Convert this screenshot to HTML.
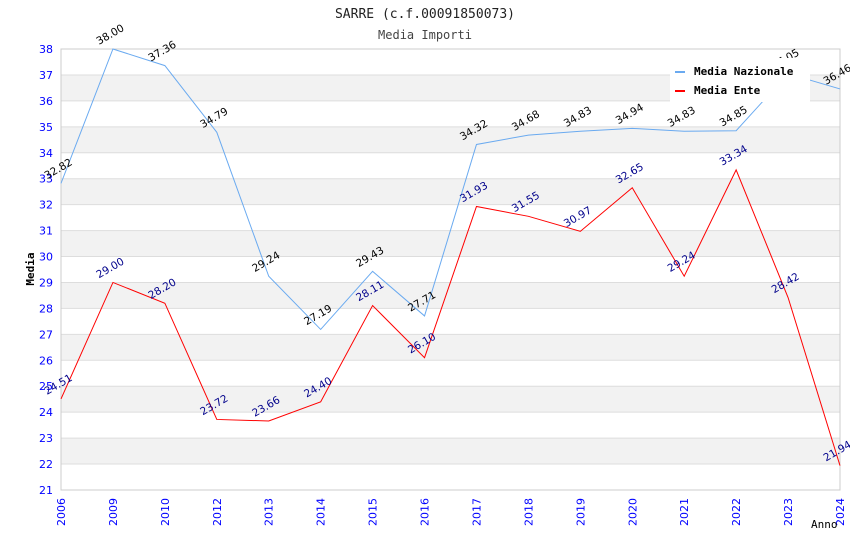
<!DOCTYPE html>
<html><head><meta charset="utf-8"><style>
body{margin:0;background:#fff}
svg{display:block;font-family:"DejaVu Sans","Liberation Sans",sans-serif}
</style></head><body>
<svg id="chart" width="850" height="550">
<text x="425" y="18" text-anchor="middle" font-family="DejaVu Sans Mono,monospace" font-size="13" fill="#222">SARRE (c.f.00091850073)</text>
<text x="425" y="39" text-anchor="middle" font-family="DejaVu Sans Mono,monospace" font-size="12" fill="#444">Media Importi</text>
<g id="grid"></g><g id="axes"></g><g id="series"></g>
<text x="34" y="269" text-anchor="middle" font-family="DejaVu Sans Mono,monospace" font-weight="bold" font-size="11" transform="rotate(-90 34 269)" fill="#000">Media</text>
<text x="811" y="528" font-family="DejaVu Sans Mono,monospace" font-size="11" fill="#000">Anno</text>
<g>
<rect x="670" y="58" width="140" height="44" fill="#fff"/>
<g><rect x="675" y="71" width="10" height="2" fill="#6aaaf0"/><text x="694" y="75" font-family="DejaVu Sans Mono,monospace" font-weight="bold" font-size="11">Media Nazionale</text></g>
<g><rect x="675" y="90" width="10" height="2" fill="#f00"/><text x="694" y="94" font-family="DejaVu Sans Mono,monospace" font-weight="bold" font-size="11">Media Ente</text></g>
</g>
</svg>
<script>
const categories=["2006","2009","2010","2012","2013","2014","2015","2016","2017","2018","2019","2020","2021","2022","2023","2024"];
const nazionale=[32.82,38.00,37.36,34.79,29.24,27.19,29.43,27.71,34.32,34.68,34.83,34.94,34.83,34.85,37.05,36.46];
const ente=[24.51,29.00,28.20,23.72,23.66,24.40,28.11,26.10,31.93,31.55,30.97,32.65,29.24,33.34,28.42,21.94];
const yTicks=[21,22,23,24,25,26,27,28,29,30,31,32,33,34,35,36,37,38];
const NS="http://www.w3.org/2000/svg";
const L=61,R=840,T=49,B=490,yMin=21,yMax=38;
const xs=i=>L+i*(R-L)/(categories.length-1);
const ys=v=>B-(v-yMin)*(B-T)/(yMax-yMin);
function mk(tag,attrs,parent){const e=document.createElementNS(NS,tag);for(const k in attrs)e.setAttribute(k,attrs[k]);parent.appendChild(e);return e;}
const grid=document.getElementById('grid'),axes=document.getElementById('axes'),ser=document.getElementById('series');
for(let i=0;i<yTicks.length-1;i++){
  if(i%2===1){const r=mk('rect',{x:L,y:ys(yTicks[i+1]),width:R-L,height:ys(yTicks[i])-ys(yTicks[i+1]),fill:'#f2f2f2'},grid);
  
  }
}
yTicks.forEach(t=>{
  const l=mk('line',{x1:L,x2:R,y1:ys(t),y2:ys(t),stroke:'#ddd'},grid);
  
  
  const tx=mk('text',{x:L-8,y:ys(t)+4,'text-anchor':'end','font-size':11,fill:'#00f'},axes);
  tx.textContent=t;
  
  
});
mk('rect',{x:L,y:T,width:R-L,height:B-T,fill:'none',stroke:'#ccc'},axes);
categories.forEach((c,i)=>{
  const x=xs(i);
  const tx=mk('text',{x:x+4,y:B+8,'text-anchor':'end','font-size':11,fill:'#00f',transform:`rotate(-90 ${x+4} ${B+8})`},axes);
  tx.textContent=c;
  
  
});
function series(data,color,labColor,name){
  const p=mk('polyline',{points:data.map((v,i)=>xs(i)+','+ys(v)).join(' '),fill:'none',stroke:color,'stroke-width':1},ser);
  
  
  data.forEach((v,i)=>{
    const x=xs(i)-14,y=ys(v)-4;
    const t=mk('text',{x:x,y:y,'font-size':10.5,fill:labColor,transform:`rotate(-30 ${x} ${y})`},ser);
    t.textContent=v.toFixed(2);
    
    
  });
}
series(nazionale,'#6aaaf0','#000','nazionale');
series(ente,'#f00','#00008b','ente');
</script>
</body></html>
